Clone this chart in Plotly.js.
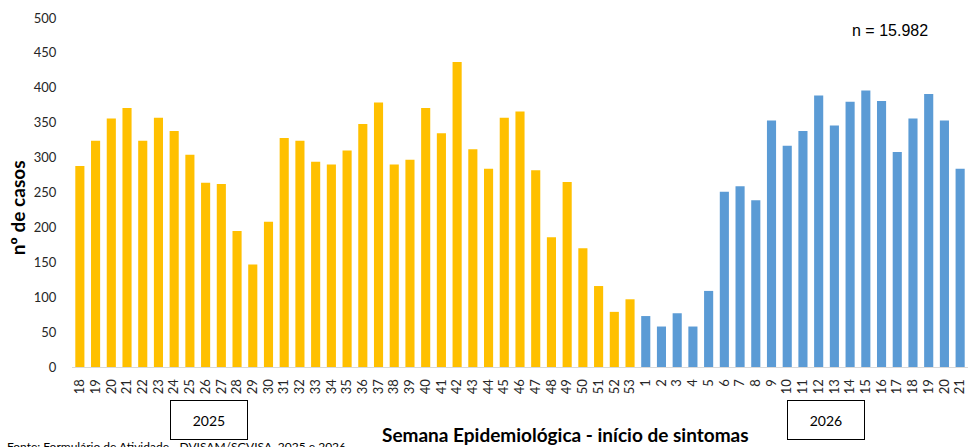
<!DOCTYPE html>
<html>
<head>
<meta charset="utf-8">
<script src="https://cdn.plot.ly/plotly-3.0.1.min.js"></script>
<style>html,body{margin:0;padding:0;background:#fff;}#chart{width:968px;height:447px;}</style>
</head>
<body>
<div id="chart"></div>
<script>
const weeks2025 = ["18","19","20","21","22","23","24","25","26","27","28","29","30","31","32","33","34","35","36","37","38","39","40","41","42","43","44","45","46","47","48","49","50","51","52","53"];
const cases2025 = [288,324,356,371,324,357,338,304,264,262,195,147,208,328,324,294,290,310,348,379,290,297,371,335,437,312,284,357,366,282,186,265,170,116,79,97];
const weeks2026 = ["1","2","3","4","5","6","7","8","9","10","11","12","13","14","15","16","17","18","19","20","21"];
const cases2026 = [73,58,77,58,109,251,259,239,353,317,338,389,346,380,396,381,308,356,391,353,284];
const yearLabels = ["2025","2026"];
const totalLabel = "n = 15.982";

const x2025 = weeks2025.map((w,i)=>i);
const x2026 = weeks2026.map((w,i)=>i+weeks2025.length);
const allTicks = x2025.concat(x2026);
const allText = weeks2025.concat(weeks2026);

const tickFont = {family:"Lato, 'Open Sans', sans-serif", size:13, color:"#262626"};

const traces = [
  {type:"bar", x:x2025, y:cases2025, marker:{color:"#FFC000"}, name:yearLabels[0], hoverinfo:"y"},
  {type:"bar", x:x2026, y:cases2026, marker:{color:"#5B9BD5"}, name:yearLabels[1], hoverinfo:"y"}
];

const layout = {
  width:968, height:447,
  margin:{l:72, r:0, t:18, b:80},
  paper_bgcolor:"#fff", plot_bgcolor:"#fff",
  showlegend:false,
  bargap:0.42,
  xaxis:{
    range:[-0.5, allTicks.length-0.5],
    tickmode:"array", tickvals:allTicks, ticktext:allText,
    tickangle:-90, tickfont:tickFont,
    showgrid:false, zeroline:false,
    showline:true, linecolor:"#D9D9D9", linewidth:1,
    ticks:"outside", ticklen:6, tickcolor:"rgba(0,0,0,0)"
  },
  yaxis:{
    range:[0,500], dtick:50, tick0:0,
    tickfont:tickFont, showgrid:false, zeroline:false, showline:false,
    ticks:"outside", ticklen:12, tickcolor:"rgba(0,0,0,0)"
  },
  annotations:[
    {text:"Fonte: Formulário de Atividade - DVISAM/SGVISA, 2025 e 2026", xref:"paper", yref:"paper", x:-0.0748, xanchor:"left", y:-0.2006, yanchor:"top", showarrow:false,
     font:{family:"Lato, 'Open Sans', sans-serif", size:12, color:"#000"}},
    {text:"<b>nº de casos</b>", xref:"paper", yref:"paper", x:-0.0614, xanchor:"center", y:0.458, yanchor:"middle", textangle:-90, showarrow:false,
     font:{family:"Lato, 'Open Sans', sans-serif", size:19, color:"#000"}},
    {text:"<b>Semana Epidemiológica - início de sintomas</b>", xref:"paper", yref:"paper", x:0.5513, xanchor:"center", y:-0.192, yanchor:"middle", showarrow:false,
     font:{family:"Lato, 'Open Sans', sans-serif", size:19, color:"#000"}},
    {text:totalLabel, xref:"paper", yref:"paper", x:0.9129, xanchor:"center", y:0.9656, yanchor:"middle", showarrow:false,
     font:{family:"'Liberation Sans', Arial, sans-serif", size:16, color:"#000"}},
    {text:yearLabels[0], xref:"paper", yref:"paper", x:0.1529, xanchor:"center", y:-0.152, yanchor:"middle", showarrow:false,
     width:74, height:36, bordercolor:"#000", borderwidth:1, borderpad:1, bgcolor:"#fff",
     font:{family:"Lato, 'Open Sans', sans-serif", size:14, color:"#000"}},
    {text:yearLabels[1], xref:"paper", yref:"paper", x:0.8415, xanchor:"center", y:-0.152, yanchor:"middle", showarrow:false,
     width:74, height:36, bordercolor:"#000", borderwidth:1, borderpad:1, bgcolor:"#fff",
     font:{family:"Lato, 'Open Sans', sans-serif", size:14, color:"#000"}}
  ]
};

Plotly.newPlot("chart", traces, layout, {displayModeBar:false, staticPlot:true});
</script>
</body>
</html>
